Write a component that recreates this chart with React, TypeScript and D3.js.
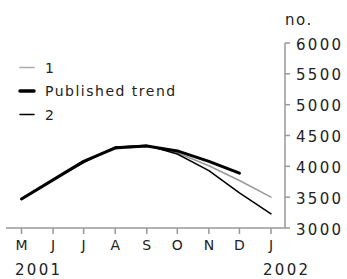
import * as d3 from 'd3'
import * as React from 'react'

const WIDTH = 347
const HEIGHT = 279
const MONTHS = ['M', 'J', 'J', 'A', 'S', 'O', 'N', 'D', 'J']
const DATES = [
  '2001-05-01', '2001-06-01', '2001-07-01', '2001-08-01', '2001-09-01',
  '2001-10-01', '2001-11-01', '2001-12-01', '2002-01-01'
]
const SERIES_1 = [3480, 3780, 4080, 4280, 4330, 4220, 4010, 3770, 3500]
const PUBLISHED_TREND = [3470, 3780, 4080, 4300, 4330, 4250, 4080, 3890]
const SERIES_2 = [3470, 3780, 4060, 4310, 4340, 4200, 3930, 3570, 3230]
const Y_TICKS = [3000, 3500, 4000, 4500, 5000, 5500, 6000]
const YEARS = ['2001', '2002']

const FONT = 'DejaVu Sans'
const AXIS = '#999'

export default function App() {
  const parse = d3.timeParse('%Y-%m-%d')
  const dates = DATES.map(d => parse(d) as Date)
  const x = d3.scaleTime().domain([dates[0], dates[8]]).range([21.5, 271])
  const y = d3.scaleLinear().domain([3000, 6000]).range([228, 43])

  const line = (vals: number[]) =>
    d3
      .line<number>()
      .x((_, i) => x(dates[i]))
      .y(v => y(v))(vals) || ''

  const series = [
    { vals: SERIES_1, color: '#999', width: 1.5 },
    { vals: SERIES_2, color: '#000', width: 1.5 },
    { vals: PUBLISHED_TREND, color: '#000', width: 3 }
  ]
  const legend = [
    { label: '1', color: '#aaa', width: 1.5 },
    { label: 'Published trend', color: '#000', width: 3.5 },
    { label: '2', color: '#000', width: 1.5 }
  ]

  return (
    <svg width={WIDTH} height={HEIGHT} style={{ position: 'absolute', left: 0, top: 0 }}>
      <rect width={WIDTH} height={HEIGHT} fill="#fff" />
      {/* x axis */}
      <line x1={6} x2={285} y1={228} y2={228} stroke={AXIS} strokeWidth={1.5} />
      {dates.map((d, i) => (
        <g key={i}>
          <line x1={x(d)} x2={x(d)} y1={228} y2={234} stroke={AXIS} strokeWidth={1.5} />
          <text x={x(d)} y={250} textAnchor="middle" fontFamily={FONT} fontSize={14} fill="#222">
            {MONTHS[i]}
          </text>
        </g>
      ))}
      <text x={15} y={275} fontFamily={FONT} fontSize={15} letterSpacing={2.3} fill="#222">{YEARS[0]}</text>
      <text x={263} y={275} fontFamily={FONT} fontSize={15} letterSpacing={2.3} fill="#222">{YEARS[1]}</text>
      {/* y axis */}
      <line x1={285} x2={285} y1={y(6000)} y2={228} stroke={AXIS} strokeWidth={1.5} />
      {Y_TICKS.map(t => (
        <g key={t}>
          <line x1={285} x2={290} y1={y(t)} y2={y(t)} stroke={AXIS} strokeWidth={1.5} />
          <text x={296} y={y(t) + 6.5} fontFamily={FONT} fontSize={15} letterSpacing={2.3} fill="#222">{t}</text>
        </g>
      ))}
      <text x={285} y={25} fontFamily={FONT} fontSize={15} letterSpacing={1.6} fill="#222">no.</text>
      {/* lines */}
      {series.map((s, i) => (
        <path key={i} d={line(s.vals)} fill="none" stroke={s.color} strokeWidth={s.width} strokeLinejoin="round" strokeLinecap="round" />
      ))}
      {/* legend */}
      {legend.map((l, i) => (
        <g key={i} transform={`translate(0,${67.5 + i * 23.5})`}>
          <line x1={20} x2={34} y1={0} y2={0} stroke={l.color} strokeWidth={l.width} strokeLinecap="round" />
          <text x={45} y={5} fontFamily={FONT} fontSize={14} letterSpacing={1.5} fill="#222">{l.label}</text>
        </g>
      ))}
    </svg>
  )
}
